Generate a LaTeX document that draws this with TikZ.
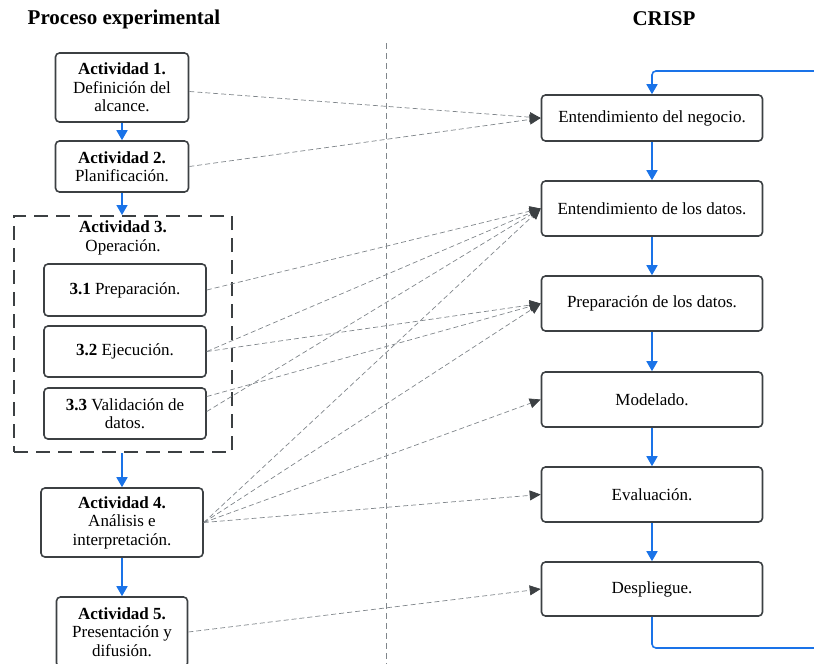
\documentclass[tikz,border=0pt]{standalone}
\usepackage{fontspec}
\setmainfont{Liberation Serif}
\usetikzlibrary{arrows.meta}
\definecolor{edge}{HTML}{3C4043}
\definecolor{flow}{HTML}{1A73E8}
\definecolor{hint}{HTML}{80868B}
\tikzset{
  box/.style={draw=edge, line width=1.6pt, rounded corners=4pt, fill=white,
    align=center, inner sep=0pt, font=\fontsize{17}{18.5}\selectfont},
  group/.style={draw=edge, line width=2pt, dash pattern=on 14pt off 8pt},
  head/.style={font=\fontsize{21}{24}\selectfont\bfseries},
}
\def\dflow{\draw[draw=flow, line width=1.6pt, -{Triangle[length=10pt,width=11pt,color=flow]}]}
\def\dlink{\draw[hint, dash pattern=on 5pt off 3pt, line width=0.7pt,
  -{Triangle[length=11pt,width=10pt,color=edge]}]}

\begin{document}
\begin{tikzpicture}[x=1pt, y=-1pt]
\useasboundingbox (0,0) rectangle (814,664);
% titulos
\node[head] (tprc) at (124,19) {Proceso experimental};
\node[head] (tcrs) at (664,19) {CRISP};
\draw[hint, dash pattern=on 6pt off 4pt, line width=0.7pt] (386,43) -- (386,666);

% proceso experimental
\node[box, minimum width=133pt, minimum height=69pt] (a1) at (122,87.5)
  {\textbf{Actividad 1.}\\Definición del\\alcance.};
\node[box, minimum width=133pt, minimum height=51pt] (a2) at (122,166.5)
  {\textbf{Actividad 2.}\\Planificación.};
\node[group, minimum width=218pt, minimum height=236pt] (a3) at (123,334) {};
\node[box, draw=none, fill=none] (a3t) at (123,238) {\textbf{Actividad 3.}\\Operación.};
\node[box, minimum width=162pt, minimum height=52pt] (s1) at (125,290)
  {\textbf{3.1} Preparación.};
\node[box, minimum width=162pt, minimum height=51pt] (s2) at (125,351.5)
  {\textbf{3.2} Ejecución.};
\node[box, minimum width=162pt, minimum height=51pt] (s3) at (125,413.5)
  {\textbf{3.3} Validación de\\datos.};
\node[box, minimum width=162pt, minimum height=69pt] (a4) at (122,522.5)
  {\textbf{Actividad 4.}\\Análisis e\\interpretación.};
\node[box, minimum width=131pt, minimum height=70pt] (a5) at (122,632)
  {\textbf{Actividad 5.}\\Presentación y\\difusión.};

\dflow (a1) -- (a2);
\dflow (a2) -- (a2 |- a3.north);
\dflow (a4 |- a3.south) -- (a4);
\dflow (a4) -- (a5);

% crisp
\node[box, minimum width=221pt, minimum height=46pt] (c1) at (652,118) {Entendimiento del negocio.};
\node[box, minimum width=221pt, minimum height=55pt] (c2) at (652,208.5) {Entendimiento de los datos.};
\node[box, minimum width=221pt, minimum height=55pt] (c3) at (652,303.5) {Preparación de los datos.};
\node[box, minimum width=221pt, minimum height=55pt] (c4) at (652,399.5) {Modelado.};
\node[box, minimum width=221pt, minimum height=55pt] (c5) at (652,494.5) {Evaluación.};
\node[box, minimum width=221pt, minimum height=54pt] (c6) at (652,589) {Despliegue.};

\dflow (c1) -- (c2);
\dflow (c2) -- (c3);
\dflow (c3) -- (c4);
\dflow (c4) -- (c5);
\dflow (c5) -- (c6);

\coordinate (cout) at (818,648);
\coordinate (cin) at (818,71);
\draw[draw=flow, line width=1.6pt, rounded corners=4pt] (c6.south) |- (cout);
\dflow[rounded corners=4pt] (cin) -| (c1.north);

% relaciones
\dlink ([yshift=-4pt]a1.east) -- (c1.west);
\dlink (a2.east) -- (c1.west);
\dlink (s1.east) -- (c2.west);
\dlink (s2.east) -- (c2.west);
\dlink (s2.east) -- (c3.west);
\dlink ([yshift=17pt]s3.east) -- (c3.west);
\dlink ([yshift=2pt]s3.east) -- (c2.west);
\dlink (a4.east) -- (c2.west);
\dlink (a4.east) -- (c3.west);
\dlink (a4.east) -- (c4.west);
\dlink (a4.east) -- (c5.west);
\dlink (a5.east) -- (c6.west);
\end{tikzpicture}
\end{document}
